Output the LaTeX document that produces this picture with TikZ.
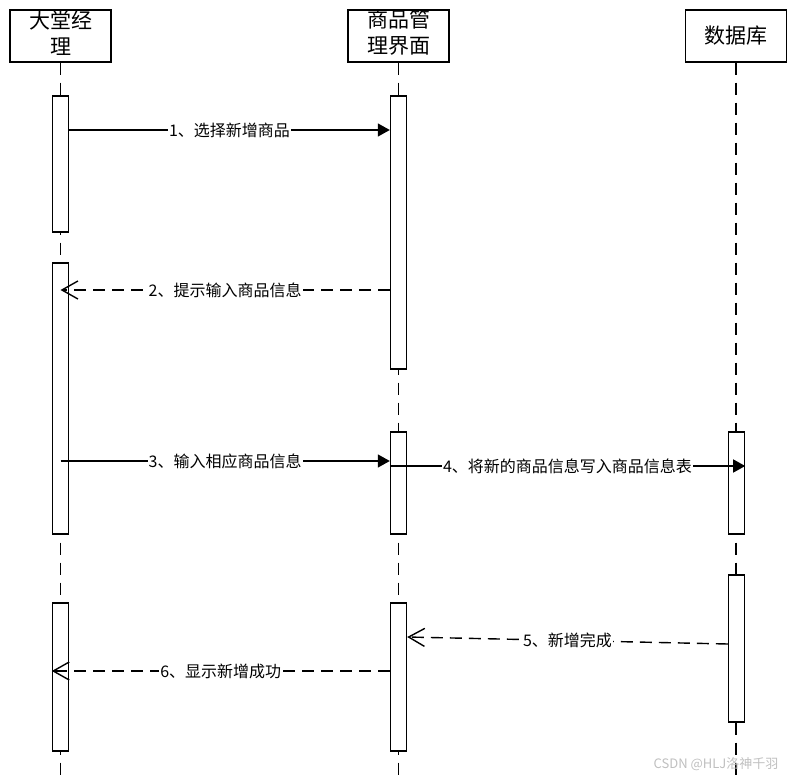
\documentclass[tikz,border=0pt]{standalone}
\usepackage{fontspec}
\setmainfont{Noto Sans CJK SC}
\usetikzlibrary{arrows.meta}

\begin{document}
\begin{tikzpicture}[x=1pt, y=-1pt,
    head/.style={draw, line width=1.4pt, minimum width=101pt, minimum height=52pt, inner sep=0pt},
    headtext/.style={font=\fontsize{21}{26}\selectfont, align=center, inner sep=0pt},
    bar/.style={draw, line width=1.4pt, fill=white, minimum width=16pt, inner sep=0pt},
    lifeline/.style={line width=1.4pt, dash pattern=on 12pt off 8pt},
    call/.style={line width=1.4pt, -{Triangle[length=12pt, width=13pt]}},
    reply/.style={line width=1.4pt, dash pattern=on 12pt off 7pt, -{Straight Barb[length=16pt, width=18pt]}},
    msg/.style={fill=white, inner sep=1pt, font=\fontsize{16}{19}\selectfont}]
  \useasboundingbox (0,0) rectangle (793,778);

  % heads
  \node[head] (mgr) at (60.5,36) {};
  \node[headtext] at (60.5,33) {大堂经\\理};
  \node[head] (ui) at (398.5,36) {};
  \node[headtext] at (398.5,33) {商品管\\理界面};
  \node[head] (db) at (736,36) {};
  \node[headtext] at (736,36) {数据库};

  % lifelines
  \draw[lifeline] (mgr.south) -- (mgr.south |- 0,778);
  \draw[lifeline] (ui.south) -- (ui.south |- 0,778);
  \draw[lifeline] (db.south) -- (db.south |- 0,778);

  % activation bars
  \node[bar, minimum height=136pt] (mgr1) at (60.5,164) {};
  \node[bar, minimum height=271pt] (mgr2) at (60.5,398.5) {};
  \node[bar, minimum height=148pt] (mgr3) at (60.5,677) {};
  \node[bar, minimum height=273pt] (ui1) at (398.5,232.5) {};
  \node[bar, minimum height=102pt] (ui2) at (398.5,483) {};
  \node[bar, minimum height=148pt] (ui3) at (398.5,677) {};
  \node[bar, minimum height=102pt] (db1) at (736.5,483) {};
  \node[bar, minimum height=147pt] (db2) at (736.5,648.5) {};

  % message ends
  \coordinate (m1s) at (mgr1.east |- 0,130);
  \coordinate (m1e) at (ui1.west |- 0,130);
  \coordinate (m2s) at (ui1.west |- 0,290);
  \coordinate (m2e) at (mgr2.center |- 0,290);
  \coordinate (m3s) at (mgr2.center |- 0,461);
  \coordinate (m3e) at (ui2.west |- 0,461);
  \coordinate (m4s) at (ui2.west |- 0,466);
  \coordinate (m4e) at (db1.east |- 0,466);
  \coordinate (m5s) at (db2.west |- 0,644);
  \coordinate (m5e) at (ui3.east |- 0,637);
  \coordinate (m6s) at (ui3.west |- 0,671);
  \coordinate (m6e) at (mgr3.west |- 0,671);

  % messages
  \draw[call] (m1s) -- node[msg, pos=0.5] {1、选择新增商品} (m1e);
  \draw[reply] (m2s) -- node[msg, pos=0.5] {2、提示输入商品信息} (m2e);
  \draw[call] (m3s) -- node[msg, pos=0.5] {3、输入相应商品信息} (m3e);
  \draw[call] (m4s) -- node[msg, pos=0.5] {4、将新的商品信息写入商品信息表} (m4e);
  \draw[reply] (m5s) -- node[msg, pos=0.5] {5、新增完成} (m5e);
  \draw[reply] (m6s) -- node[msg, pos=0.5] {6、显示新增成功} (m6e);

  \node[text=black!25, font=\fontsize{13}{15}\selectfont, inner sep=0pt] (mark) at (716,764) {CSDN @HLJ洛神千羽};
\end{tikzpicture}
\end{document}
